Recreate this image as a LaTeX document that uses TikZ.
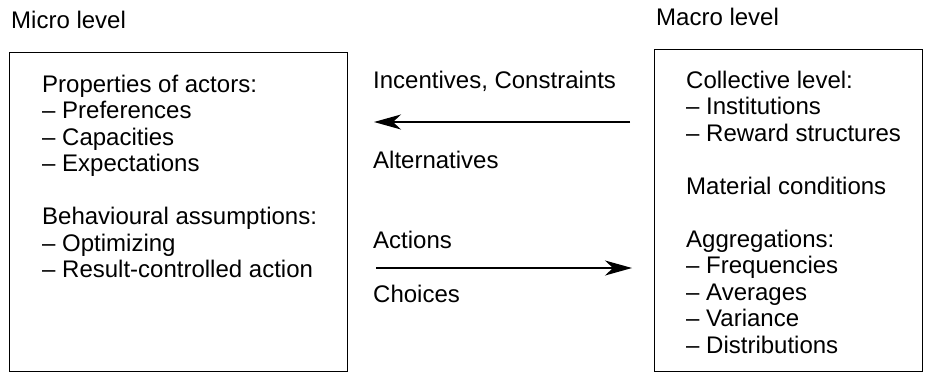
\documentclass[tikz,border=0pt]{standalone}
\usepackage{fontspec}
\setmainfont{Liberation Sans}
\usetikzlibrary{arrows.meta}
\begin{document}
\begin{tikzpicture}[x=1pt,y=-1pt,
  every node/.style={inner sep=0pt, font=\fontsize{24}{26.5}\selectfont},
  levelbox/.style={draw, line width=1.3pt, anchor=north west},
  txt/.style={anchor=base west},
  flow/.style={line width=1.4pt, -{Stealth[length=27pt,width=15pt,inset=8pt]}}]
  \useasboundingbox (0,0) rectangle (926,373);

  % level headings
  \node[txt] (microtitle) at (11,28) {Micro level};
  \node[txt] (macrotitle) at (656,25) {Macro level};

  % the two level boxes
  \node[levelbox, minimum width=338pt, minimum height=319pt] (micro) at (9,52) {};
  \node[levelbox, minimum width=268pt, minimum height=322pt] (macro) at (654,49) {};

  % micro level contents
  \node[txt] (actors) at (42,92) {\begin{tabular}[t]{@{}l@{}}
    Properties of actors:\\
    – Preferences\\
    – Capacities\\
    – Expectations\\
    \\
    Behavioural assumptions:\\
    – Optimizing\\
    – Result-controlled action
  \end{tabular}};

  % macro level contents
  \node[txt] (collective) at (686,88) {\begin{tabular}[t]{@{}l@{}}
    Collective level:\\
    – Institutions\\
    – Reward structures\\
    \\
    Material conditions\\
    \\
    Aggregations:\\
    – Frequencies\\
    – Averages\\
    – Variance\\
    – Distributions
  \end{tabular}};

  % labels between the boxes
  \node[txt] (incentives) at (373,88) {Incentives, Constraints};
  \node[txt] (alternatives) at (373,168) {Alternatives};
  \node[txt] (actions) at (373,248) {Actions};
  \node[txt] (choices) at (373,302) {Choices};

  % macro-to-micro and micro-to-macro arrows
  \coordinate (downfrom) at (630,122);
  \coordinate (downto) at (374,122);
  \coordinate (upfrom) at (376,268);
  \coordinate (upto) at (632,268);
  \draw[flow] (downfrom) -- (downto);
  \draw[flow] (upfrom) -- (upto);
\end{tikzpicture}
\end{document}
